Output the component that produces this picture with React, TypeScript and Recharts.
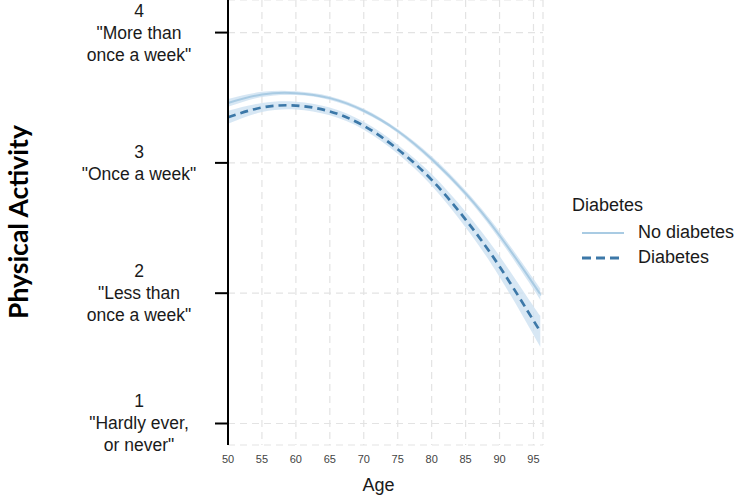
import React from 'react';
import { ComposedChart, Line, Area, XAxis, YAxis, CartesianGrid, Legend } from 'recharts';

const ages = [50, 55, 60, 65, 70, 75, 80, 85, 90, 95, 96];
const noDiabetes = [3.46, 3.525, 3.535, 3.497, 3.4, 3.245, 3.03, 2.766, 2.443, 2.07, 1.99];
const noDiabetesLow = [3.43, 3.505, 3.52, 3.482, 3.385, 3.23, 3.01, 2.744, 2.413, 2.03, 1.945];
const noDiabetesHigh = [3.49, 3.545, 3.55, 3.512, 3.415, 3.26, 3.05, 2.788, 2.473, 2.11, 2.035];
const diabetes = [3.35, 3.425, 3.44, 3.395, 3.285, 3.105, 2.87, 2.565, 2.205, 1.79, 1.71];
const diabetesLow = [3.3, 3.39, 3.41, 3.365, 3.255, 3.07, 2.825, 2.505, 2.125, 1.68, 1.59];
const diabetesHigh = [3.4, 3.46, 3.47, 3.425, 3.315, 3.14, 2.915, 2.625, 2.285, 1.9, 1.83];

const xTicks = [50, 55, 60, 65, 70, 75, 80, 85, 90, 95];
const yTicks = [1, 2, 3, 4];
const yTickLabels = [
  ['1', '"Hardly ever,', 'or never"'],
  ['2', '"Less than', 'once a week"'],
  ['3', '"Once a week"'],
  ['4', '"More than', 'once a week"'],
];
const seriesNames = ['No diabetes', 'Diabetes'];

const data = ages.map((age, i) => ({
  age,
  nd: noDiabetes[i],
  ndBand: [noDiabetesLow[i], noDiabetesHigh[i]],
  d: diabetes[i],
  dBand: [diabetesLow[i], diabetesHigh[i]],
}));

const SOLID = '#a9cbe3';
const DASHED = '#3c78a8';
const BAND = '#cde1f1';
const FONT = '"Liberation Sans", Arial, sans-serif';

const YTick = (props: any) => {
  const { y, payload } = props;
  const idx = yTicks.indexOf(payload.value);
  const lines = yTickLabels[idx] || [String(payload.value)];
  const lh = 22;
  const startY = y - ((lines.length - 1) * lh) / 2;
  return (
    <text x={139} y={startY} textAnchor="middle" fontFamily={FONT} fontSize={17.5} fill="#1a1a1a" dominantBaseline="central">
      {lines.map((l, i) => (
        <tspan key={i} x={139} y={startY + i * lh}>{l}</tspan>
      ))}
    </text>
  );
};

const LegendContent = () => (
  <div style={{ fontFamily: FONT, fontSize: 18, color: '#1a1a1a', lineHeight: '25px' }}>
    <div style={{ marginBottom: 2 }}>Diabetes</div>
    {seriesNames.map((n, i) => (
      <div key={n} style={{ display: 'flex', alignItems: 'center', marginLeft: 10 }}>
        <svg width={42} height={12} style={{ marginRight: 14 }}>
          <line x1={0} x2={42} y1={6} y2={6} stroke={i === 0 ? SOLID : DASHED} strokeWidth={i === 0 ? 2 : 3} strokeDasharray={i === 0 ? undefined : '9 5'} />
        </svg>
        <span>{n}</span>
      </div>
    ))}
  </div>
);

export default function App() {
  return (
    <div style={{ position: 'absolute', left: 0, top: 0, width: 742, height: 501, background: '#fff' }}>
      <ComposedChart width={742} height={501} data={data} margin={{ top: 0, right: 199, bottom: 0, left: 0 }}>
        <CartesianGrid stroke="#e3e3e3" strokeDasharray="7 5" strokeWidth={1.2} />
        <XAxis
          dataKey="age"
          type="number"
          domain={[50, 96.4]}
          ticks={xTicks}
          axisLine={false}
          tickLine={false}
          tickSize={0}
          tickMargin={10}
          height={56}
          tick={{ fontSize: 11, fill: '#444', fontFamily: FONT }}
          label={{
            content: (p: any) => {
              const vb = p.viewBox;
              return (
                <text x={vb.x + vb.width / 2 - 7} y={491} textAnchor="middle" fontFamily={FONT} fontSize={18} fill="#1a1a1a">Age</text>
              );
            },
          }}
        />
        <YAxis
          type="number"
          domain={[0.835, 4.25]}
          ticks={yTicks}
          width={228}
          axisLine={{ stroke: '#000', strokeWidth: 2 }}
          tickLine={{ stroke: '#000', strokeWidth: 2 }}
          tickSize={13}
          tick={<YTick />}
          allowDataOverflow
          label={{
            content: () => (
              <text x={18} y={222} transform="rotate(-90 18 222)" textAnchor="middle" dominantBaseline="central" fontFamily="Lato, sans-serif" fontWeight="bold" fontSize={26.5} fill="#000">Physical Activity</text>
            ),
          }}
        />
        <Area type="natural" dataKey="ndBand" stroke="none" fill={BAND} fillOpacity={0.8} isAnimationActive={false} legendType="none" />
        <Area type="natural" dataKey="dBand" stroke="none" fill={BAND} fillOpacity={0.8} isAnimationActive={false} legendType="none" />
        <Line type="natural" dataKey="nd" stroke={SOLID} strokeWidth={2} dot={false} isAnimationActive={false} name="No diabetes" />
        <Line type="natural" dataKey="d" stroke={DASHED} strokeWidth={2.7} strokeDasharray="8 5" dot={false} isAnimationActive={false} name="Diabetes" />
        <Legend layout="vertical" align="center" verticalAlign="middle" content={<LegendContent />} wrapperStyle={{ position: 'absolute', left: 572, top: 193, width: 170 }} />
      </ComposedChart>
    </div>
  );
}
